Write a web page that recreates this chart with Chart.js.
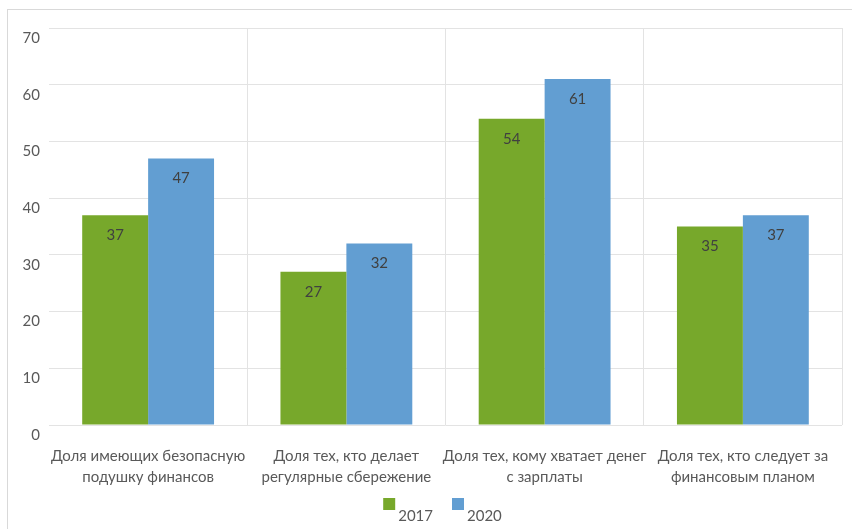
<!DOCTYPE html>
<html>
<head>
<meta charset="utf-8">
<script src="https://cdn.jsdelivr.net/npm/chart.js@4"></script>
<style>
    html, body { margin: 0; padding: 0; background: #fff; }
    #wrap { position: relative; width: 852px; height: 529px; overflow: hidden; }
    #frame { position: absolute; left: 7px; top: 9px; width: 900px; height: 600px; border: 1px solid #d9d9d9; box-sizing: border-box; }
    canvas { position: absolute; left: 0; top: 0; }
</style>
</head>
<body>
<div id="wrap">
    <div id="frame"></div>
    <canvas id="chart" width="852" height="529"></canvas>
</div>
<script>
// Categories and series
const categories = [
    ['Доля имеющих безопасную', 'подушку финансов'],
    ['Доля тех, кто делает', 'регулярные сбережение'],
    ['Доля тех, кому хватает денег', 'с зарплаты'],
    ['Доля тех, кто следует за', 'финансовым планом']
];
const values2017 = [37, 27, 54, 35];
const values2020 = [47, 32, 61, 37];
const yTicks = [0, 10, 20, 30, 40, 50, 60, 70];

const fontFamily = 'Lato, "Liberation Sans", sans-serif';
const textColor = '#595959';

// Value labels drawn inside the top of each bar
const barValueLabels = {
    id: 'barValueLabels',
    afterDatasetsDraw(chart) {
        const ctx = chart.ctx;
        ctx.save();
        ctx.font = '15px ' + fontFamily;
        ctx.fillStyle = '#404040';
        ctx.textAlign = 'center';
        ctx.textBaseline = 'middle';
        chart.data.datasets.forEach((ds, i) => {
            chart.getDatasetMeta(i).data.forEach((bar, j) => {
                ctx.fillText(ds.data[j], bar.x, bar.y + 20);
            });
        });
        ctx.restore();
    }
};

// Legend under the axis labels: square swatch, text set slightly lower
const bottomLegend = {
    id: 'bottomLegend',
    afterDraw(chart) {
        const ctx = chart.ctx;
        const box = 12, gapText = 3, gapItem = 19;
        ctx.save();
        ctx.font = '15px ' + fontFamily;
        const items = chart.data.datasets.map(ds => ({
            label: ds.label,
            color: ds.backgroundColor,
            width: box + gapText + ctx.measureText(ds.label).width
        }));
        const total = items.reduce((s, it) => s + it.width, 0) + gapItem * (items.length - 1);
        let x = (chart.chartArea.left + chart.chartArea.right) / 2 - 3 - total / 2;
        const boxTop = 498;
        items.forEach(it => {
            ctx.fillStyle = it.color;
            ctx.fillRect(x, boxTop, box, box);
            ctx.fillStyle = textColor;
            ctx.textAlign = 'left';
            ctx.textBaseline = 'middle';
            ctx.fillText(it.label, x + box + gapText, boxTop + 18);
            x += it.width + gapItem;
        });
        ctx.restore();
    }
};

new Chart(document.getElementById('chart'), {
    type: 'bar',
    data: {
        labels: categories,
        datasets: [
            {
                label: '2017',
                data: values2017,
                backgroundColor: '#77a82b',
                barPercentage: 1,
                categoryPercentage: 0.665
            },
            {
                label: '2020',
                data: values2020,
                backgroundColor: '#629ed2',
                barPercentage: 1,
                categoryPercentage: 0.665
            }
        ]
    },
    options: {
        responsive: false,
        animation: false,
        layout: {
            padding: { top: 28, right: 10, bottom: 32, left: 0 }
        },
        plugins: {
            legend: { display: false },
            tooltip: { enabled: false }
        },
        scales: {
            x: {
                grid: {
                    offset: true,
                    drawTicks: false,
                    color: ctx => (ctx.index === 0 || ctx.index === categories.length) ? 'rgba(0,0,0,0)' : '#e3e3e3'
                },
                border: { display: false },
                ticks: {
                    autoSkip: false,
                    padding: 21,
                    color: textColor,
                    maxRotation: 0,
                    font: { family: fontFamily, size: 15, lineHeight: 1.4 }
                },
                afterFit: scale => { scale.height = 72; }
            },
            y: {
                min: 0,
                max: 70,
                afterBuildTicks: scale => { scale.ticks = yTicks.map(v => ({ value: v })); },
                grid: { drawTicks: false, color: '#e3e3e3' },
                border: { display: false },
                ticks: {
                    padding: 9,
                    labelOffset: 10,
                    color: textColor,
                    font: { family: fontFamily, size: 15 }
                },
                afterFit: scale => { scale.width = 49; }
            }
        }
    },
    plugins: [barValueLabels, bottomLegend]
});
</script>
</body>
</html>
